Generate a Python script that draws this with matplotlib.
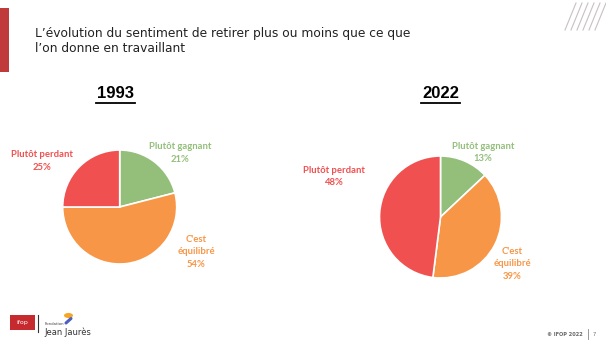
import matplotlib
matplotlib.use("Agg")
import matplotlib.pyplot as plt
from matplotlib.patches import Rectangle, Circle
from matplotlib.lines import Line2D

# Data
years = ["1993", "2022"]
categories = ["Plutôt gagnant", "C'est\néquilibré", "Plutôt perdant"]
values_1993 = [21, 54, 25]
values_2022 = [13, 39, 48]
colors = ["#93bf7b", "#f79646", "#f05050"]

title = "L’évolution du sentiment de retirer plus ou moins que ce que\nl’on donne en travaillant"

W, H = 606, 340
fig = plt.figure(figsize=(W / 100, H / 100), dpi=100)
fig.patch.set_facecolor("white")


def fx(x):
    return x / W


def fy(y):
    return 1 - y / H


LABEL_FONT = ["Lato", "DejaVu Sans"]

# Left accent bar
fig.add_artist(Rectangle((fx(0), fy(72)), fx(9), 64 / H, transform=fig.transFigure,
                         color="#c0393b", lw=0))

# Title
fig.text(fx(35), fy(27.5), title, ha="left", va="top", fontsize=8.8,
         family="DejaVu Sans", color="#222222", linespacing=1.2)

# Decorative diagonal hatch (top right)
for i in range(6):
    x0 = 565 + i * 6
    fig.add_artist(Line2D([fx(x0), fx(x0 + 11)], [fy(30), fy(3)],
                          transform=fig.transFigure, color="#c9bfc4", lw=0.8))

# Pies: (center x, center y, radius) in pixels
pies = [
    (years[0], values_1993, (119.7, 207.0, 57.0), 115.0),
    (years[1], values_2022, (440.5, 217.0, 61.0), 440.5),
]

label_pos = {
    "1993": [(180, 153), (196, 252), (42, 161)],
    "2022": [(483, 152.5), (512, 264), (334, 176.5)],
}

for year, vals, (cx, cy, r), tx in pies:
    ax = fig.add_axes([fx(cx - r), fy(cy + r), 2 * r / W, 2 * r / H])
    ax.pie(vals, colors=colors, startangle=90, counterclock=False,
           wedgeprops=dict(edgecolor="white", linewidth=1.2))
    ax.set_xlim(-1, 1)
    ax.set_ylim(-1, 1)
    ax.set_aspect("equal")
    ax.axis("off")

    # Year heading, underlined
    fig.text(fx(tx), fy(94), year, ha="center", va="center", fontsize=12,
             fontweight="bold", family=["Liberation Sans", "DejaVu Sans"], color="#000000")
    fig.add_artist(Line2D([fx(tx - 19.5), fx(tx + 19.5)], [fy(103), fy(103)],
                          transform=fig.transFigure, color="#000000", lw=1.3))

    for cat, v, col, (lx, ly) in zip(categories, vals, colors, label_pos[year]):
        fig.text(fx(lx), fy(ly), f"{cat}\n{v}%", ha="center", va="center",
                 fontsize=6.8, fontweight="bold", family=LABEL_FONT, color=col,
                 linespacing=1.45)

# Logos (bottom left)
fig.add_artist(Rectangle((fx(10), fy(330)), 25 / W, 15 / H, transform=fig.transFigure,
                         color="#c62a2f", lw=0))
fig.text(fx(22.5), fy(322.5), "ifop", ha="center", va="center", fontsize=4.5,
         color="white", family="DejaVu Sans")
fig.add_artist(Line2D([fx(37.5), fx(37.5)], [fy(315), fy(332)],
                      transform=fig.transFigure, color="#333333", lw=0.8))
fig.add_artist(Circle((fx(68.5), fy(315.5)), 4.5 / W, transform=fig.transFigure,
                      color="#f5a623", lw=0))
fig.add_artist(Line2D([fx(66), fx(71)], [fy(323), fy(318.5)],
                      transform=fig.transFigure, color="#4a5fc1", lw=2.2,
                      solid_capstyle="round"))
fig.text(fx(45), fy(324), "Fondation", ha="left", va="center", fontsize=2.8,
         color="#444444", family="DejaVu Sans")
fig.text(fx(44), fy(332.5), "Jean Jaurès", ha="left", va="center", fontsize=6,
         color="#333333", family="DejaVu Sans")

# Footer
fig.text(fx(583), fy(334), "© IFOP 2022", ha="right", va="center", fontsize=3.6,
         color="#666666", family="DejaVu Sans", fontweight="bold")
fig.add_artist(Line2D([fx(588), fx(588)], [fy(329), fy(339)],
                      transform=fig.transFigure, color="#888888", lw=0.6))
fig.text(fx(594), fy(334), "7", ha="center", va="center", fontsize=3.6,
         color="#666666", family="DejaVu Sans")

fig.savefig("out.png", dpi=100, facecolor="white")
